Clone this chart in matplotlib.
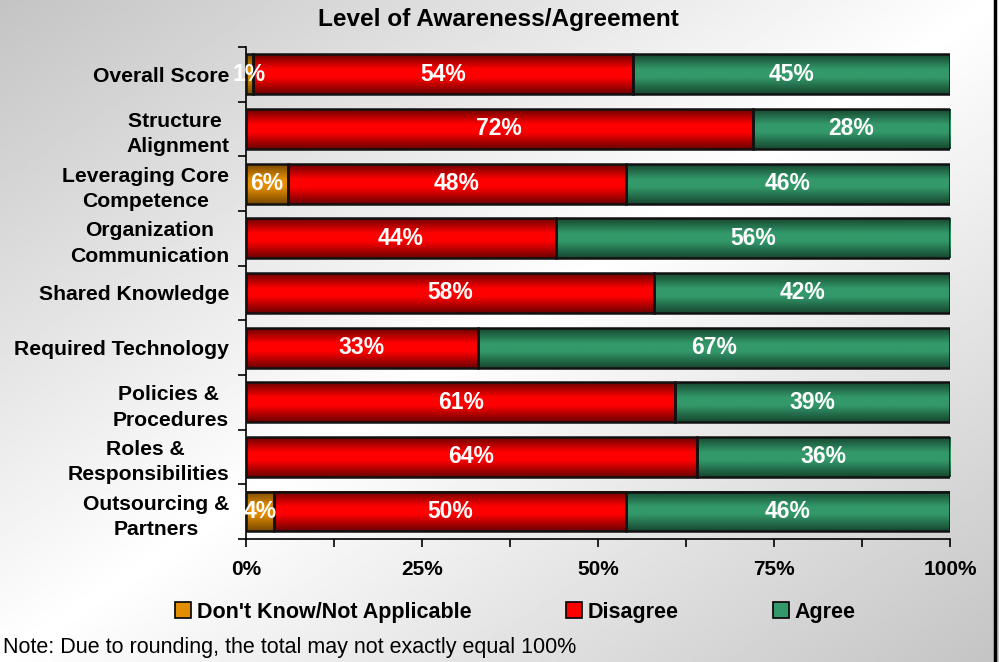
import numpy as np
import matplotlib
matplotlib.use("Agg")
import matplotlib.pyplot as plt
from matplotlib.colors import LinearSegmentedColormap
from matplotlib.patches import Rectangle
from matplotlib.lines import Line2D
from matplotlib.ticker import MultipleLocator

plt.rcParams["font.family"] = ["Liberation Sans", "DejaVu Sans"]

categories = [
    "Overall Score",
    "Structure \nAlignment",
    "Leveraging Core\nCompetence",
    "Organization\nCommunication",
    "Shared Knowledge",
    "Required Technology",
    "Policies & \nProcedures",
    "Roles & \nResponsibilities",
    "Outsourcing &\nPartners",
]
dont_know = [1, 0, 6, 0, 0, 0, 0, 0, 4]
disagree = [54, 72, 48, 44, 58, 33, 61, 64, 50]
agree = [45, 28, 46, 56, 42, 67, 39, 36, 46]

series = [
    ("Don't Know/Not Applicable", dont_know, "#e38e00", "#7a4a00"),
    ("Disagree", disagree, "#ff0000", "#6e0000"),
    ("Agree", agree, "#33996a", "#16482f"),
]

fig = plt.figure(figsize=(9.99, 6.62), dpi=100)

# diagonal background gradient: grey corners top-left / bottom-right
bg = fig.add_axes([0, 0, 1, 1], zorder=-10)
u, v = np.meshgrid(np.linspace(0, 1, 400), np.linspace(0, 1, 300))
shade = 1 - np.abs(u + v - 1)
bg.imshow(196 + (255 - 196) * shade, cmap="gray", vmin=0, vmax=255,
          aspect="auto", extent=[0, 1, 1, 0])
bg.axis("off")

ax = fig.add_axes([0.246, 0.186, 0.705, 0.743])
ax.set_facecolor("none")

ypos = np.arange(len(categories))
bar_h = 0.73
left = np.zeros(len(categories))
for name, vals, bright, dark in series:
    vals = np.asarray(vals, dtype=float)
    cmap = LinearSegmentedColormap.from_list(
        name, [(0.0, dark), (0.38, bright), (0.58, bright), (1.0, dark)])
    grad = np.linspace(0, 1, 64).reshape(-1, 1)
    for i, (y, w) in enumerate(zip(ypos, vals)):
        if w <= 0:
            continue
        x0 = left[i]
        ax.imshow(grad, cmap=cmap, aspect="auto", interpolation="bilinear",
                  extent=[x0, x0 + w, y + bar_h / 2, y - bar_h / 2], zorder=2)
        ax.add_patch(Rectangle((x0, y - bar_h / 2), w, bar_h, facecolor="none",
                               edgecolor="#111111", linewidth=1.8, zorder=3))
        ax.text(x0 + w / 2, y, f"{w:.0f}%", color="white", fontsize=16.5,
                fontweight="bold", ha="center", va="center", zorder=4)
    left += vals

ax.set_xlim(0, 100)
ax.set_ylim(len(categories) - 0.5, -0.5)

ax.set_yticks(ypos)
ax.set_yticklabels(categories, fontsize=15.2, fontweight="bold",
                   multialignment="center", linespacing=1.42)
ax.yaxis.set_minor_locator(MultipleLocator(1, offset=0.5))
ax.tick_params(axis="y", which="major", length=0, pad=12)
ax.tick_params(axis="y", which="minor", length=6, width=1.2, direction="out")

ax.xaxis.set_major_locator(MultipleLocator(25))
ax.xaxis.set_minor_locator(MultipleLocator(12.5))
ax.set_xticklabels([f"{t:.0f}%" for t in ax.get_xticks()],
                   fontsize=15, fontweight="bold")
ax.tick_params(axis="x", which="both", length=6, width=1.2, direction="out", pad=9)

for side in ("top", "right"):
    ax.spines[side].set_visible(False)
ax.spines["left"].set_linewidth(1.2)
ax.spines["bottom"].set_linewidth(1.2)

fig.text(0.4985, 0.971, "Level of Awareness/Agreement", fontsize=17.6,
         fontweight="bold", ha="center", va="center")

handles = [Rectangle((0, 0), 1, 1, facecolor=b, edgecolor="black", linewidth=1.2)
           for _, _, b, _ in series]
fig.legend(handles, [s[0] for s in series], loc="center",
           bbox_to_anchor=(0.516, 0.0755), ncol=3, frameon=False,
           prop={"size": 15.5, "weight": "bold"}, handlelength=0.75,
           handleheight=0.75, handletextpad=0.25, columnspacing=4.4)

fig.text(0.003, 1 - 648 / 662, "Note: Due to rounding, the total may not exactly equal 100%",
         fontsize=15.5, ha="left", va="center")

fig.add_artist(Line2D([994.5 / 999, 994.5 / 999], [0, 1], color="black",
                      linewidth=2.5, transform=fig.transFigure))

fig.savefig("out.png", dpi=100)
